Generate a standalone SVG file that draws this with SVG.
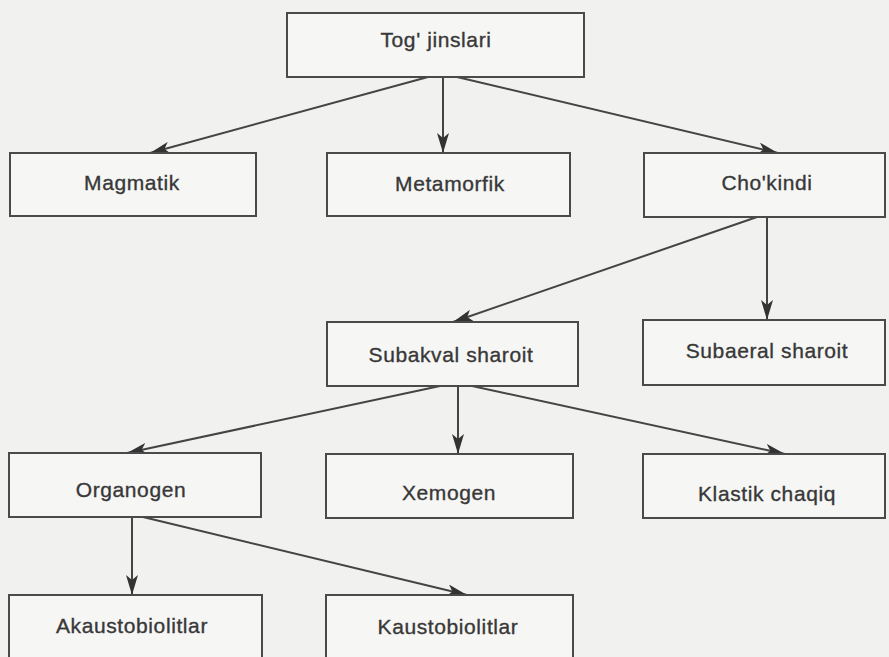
<svg xmlns="http://www.w3.org/2000/svg" width="889" height="657" viewBox="0 0 889 657">
<style>
.box{fill:#f6f6f5;stroke:#4a4a4a;stroke-width:2}
.lbl{font-family:"Liberation Sans",Arial,sans-serif;font-size:21px;letter-spacing:0.6px;fill:#383838;stroke:#383838;stroke-width:0.35;text-anchor:middle}
.con{stroke:#444;stroke-width:2;fill:none;marker-end:url(#ah)}
</style>
<defs>
<marker id="ah" viewBox="0 0 20 12" refX="20" refY="6" markerWidth="20" markerHeight="12" markerUnits="userSpaceOnUse" orient="auto">
<path d="M0,0 L20,6 L0,12 L5,6 z" fill="#333"/>
</marker>
</defs>
<rect width="889" height="657" fill="#f1f1ef"/>
<g id="connectors">
<line class="con" x1="428" y1="77" x2="150" y2="153"/>
<line class="con" x1="443" y1="77" x2="443" y2="153"/>
<line class="con" x1="457" y1="77" x2="778" y2="153"/>
<line class="con" x1="757" y1="217" x2="453" y2="322"/>
<line class="con" x1="767" y1="217" x2="767" y2="320"/>
<line class="con" x1="440" y1="386" x2="127" y2="453"/>
<line class="con" x1="458" y1="386" x2="458" y2="454"/>
<line class="con" x1="472" y1="386" x2="785" y2="454"/>
<line class="con" x1="132" y1="517" x2="132" y2="595"/>
<line class="con" x1="143" y1="517" x2="467" y2="595"/>
</g>
<g id="tog-jinslari"><rect class="box" x="287" y="13" width="297" height="64"/><text class="lbl" x="436" y="47">Tog' jinslari</text></g>
<g id="magmatik"><rect class="box" x="10" y="153" width="246" height="63"/><text class="lbl" x="132" y="190">Magmatik</text></g>
<g id="metamorfik"><rect class="box" x="327" y="153" width="243" height="63"/><text class="lbl" x="450" y="191">Metamorfik</text></g>
<g id="chokindi"><rect class="box" x="644" y="153" width="241" height="64"/><text class="lbl" x="767" y="190">Cho'kindi</text></g>
<g id="subakval"><rect class="box" x="327" y="322" width="251" height="64"/><text class="lbl" x="451" y="362">Subakval sharoit</text></g>
<g id="subaeral"><rect class="box" x="643" y="320" width="242" height="65"/><text class="lbl" x="767" y="358">Subaeral sharoit</text></g>
<g id="organogen"><rect class="box" x="9" y="453" width="252" height="64"/><text class="lbl" x="131" y="497">Organogen</text></g>
<g id="xemogen"><rect class="box" x="326" y="454" width="247" height="64"/><text class="lbl" x="449" y="500">Xemogen</text></g>
<g id="klastik"><rect class="box" x="643" y="454" width="242" height="64"/><text class="lbl" x="767" y="501">Klastik chaqiq</text></g>
<g id="akaustobiolitlar"><rect class="box" x="9" y="595" width="253" height="80"/><text class="lbl" x="132" y="633">Akaustobiolitlar</text></g>
<g id="kaustobiolitlar"><rect class="box" x="326" y="595" width="247" height="80"/><text class="lbl" x="448" y="634">Kaustobiolitlar</text></g>
</svg>
